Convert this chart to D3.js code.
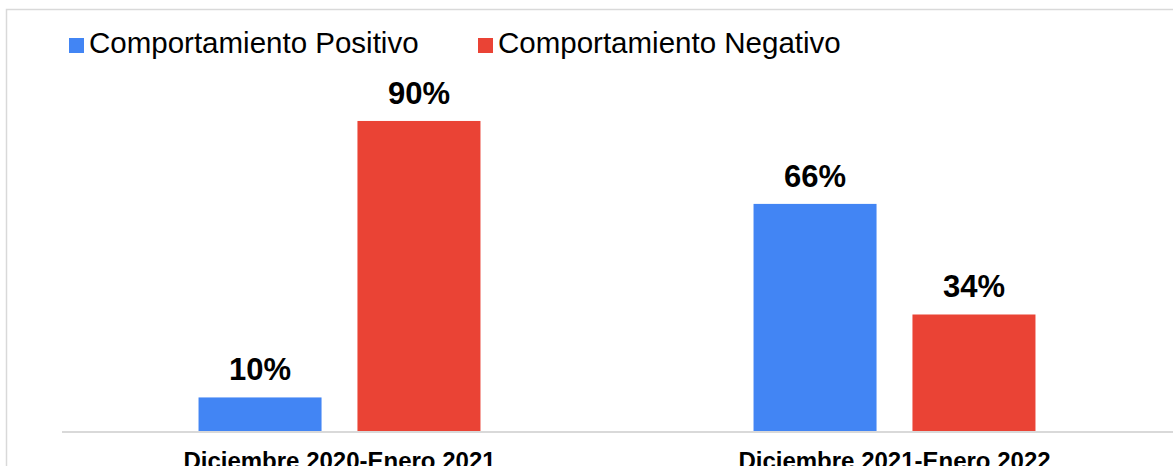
<!DOCTYPE html>
<html><head><meta charset="utf-8">
<script src="https://cdn.jsdelivr.net/npm/d3@7"></script>
<style>html,body{margin:0;padding:0;background:#fff;overflow:hidden}</style>
</head><body>
<svg id="chart" width="1173" height="466"></svg>
<script>
const categories = ["Diciembre 2020-Enero 2021", "Diciembre 2021-Enero 2022"];
const seriesNames = ["Comportamiento Positivo", "Comportamiento Negativo"];
const positivo = [10, 66];
const negativo = [90, 34];
const colors = ["#4285F4", "#EA4335"];

const svg = d3.select("#chart");
const font = "'Liberation Sans', Arial, sans-serif";

// frame
svg.append("rect").attr("x", 6.5).attr("y", 9.5).attr("width", 1200).attr("height", 500)
  .attr("fill", "none").attr("stroke", "#d9d9d9").attr("stroke-width", 1.5);

const left = 62, right = 1172, base = 432;
const x0 = d3.scaleBand().domain(categories).range([left, right]).paddingInner(0.492).paddingOuter(0.246);
const x1 = d3.scaleBand().domain(seriesNames).range([0, x0.bandwidth()]).paddingInner(0.226);
const y = d3.scaleLinear().domain([0, 100]).range([base, base - 345.6]);

const data = categories.map((c, i) => ({cat: c, vals: [positivo[i], negativo[i]]}));

const g = svg.selectAll("g.grp").data(data).join("g").attr("class", "grp")
  .attr("transform", d => `translate(${x0(d.cat)},0)`);

g.selectAll("rect").data(d => d.vals.map((v, j) => ({s: seriesNames[j], v, j})))
  .join("rect")
  .attr("x", d => x1(d.s)).attr("width", x1.bandwidth())
  .attr("y", d => y(d.v)).attr("height", d => base - y(d.v))
  .attr("fill", d => colors[d.j]);

g.selectAll("text.val").data(d => d.vals.map((v, j) => ({s: seriesNames[j], v, j})))
  .join("text").attr("class", "val")
  .attr("x", d => x1(d.s) + x1.bandwidth() / 2).attr("y", d => y(d.v) - 17)
  .attr("text-anchor", "middle").attr("font-family", font).attr("font-weight", "bold")
  .attr("font-size", 31).attr("fill", "#000").text(d => d.v + "%");

// x axis
const xAxis = d3.axisBottom(x0).tickSize(0).tickPadding(0);
const ax = svg.append("g").attr("transform", `translate(0,${base})`).call(xAxis);
ax.select(".domain").attr("stroke", "#d9d9d9").attr("stroke-width", 2).attr("d", `M${left},0H1173`);
ax.selectAll(".tick text").attr("font-family", font).attr("font-weight", "bold")
  .attr("font-size", 24).attr("fill", "#000").attr("dy", null).attr("y", 37);

// legend
const legendX = [69, 478];
const leg = svg.selectAll("g.leg").data(seriesNames).join("g").attr("class", "leg")
  .attr("transform", (d, i) => `translate(${legendX[i]},0)`);
leg.append("rect").attr("x", 0).attr("y", 38).attr("width", 15).attr("height", 15)
  .attr("fill", (d, i) => colors[i]);
leg.append("text").attr("x", 20).attr("y", 53).attr("font-family", font)
  .attr("font-size", 29.5).attr("fill", "#000").text(d => d);
</script>
</body></html>
